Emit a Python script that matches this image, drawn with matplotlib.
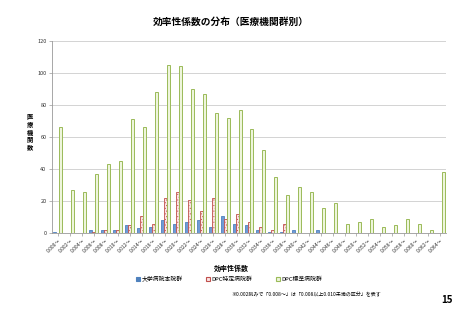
import matplotlib
matplotlib.use("Agg")
import matplotlib.pyplot as plt
import numpy as np

plt.rcParams['font.family'] = ['Noto Sans CJK JP', 'DejaVu Sans']

categories = ["0.000～", "0.002～", "0.004～", "0.006～", "0.008～", "0.010～", "0.012～",
              "0.014～", "0.016～", "0.018～", "0.020～", "0.022～", "0.024～", "0.026～",
              "0.028～", "0.030～", "0.032～", "0.034～", "0.036～", "0.038～", "0.040～",
              "0.042～", "0.044～", "0.046～", "0.048～", "0.050～", "0.052～", "0.054～",
              "0.056～", "0.058～", "0.060～", "0.062～", "0.064～"]
univ = [1, 0, 0, 2, 2, 2, 5, 3, 4, 8, 6, 7, 8, 4, 11, 6, 5, 2, 1, 1, 2,
        0, 2, 0, 0, 0, 0, 0, 0, 0, 0, 0, 0]
special = [0, 0, 0, 1, 2, 2, 5, 11, 6, 22, 26, 21, 14, 22, 9, 12, 7, 4, 2, 6, 0,
           0, 0, 0, 0, 0, 0, 0, 0, 0, 0, 0, 0]
standard = [66, 27, 26, 37, 43, 45, 71, 66, 88, 105, 104, 90, 87, 75, 72, 77, 65, 52, 35, 24, 29,
            26, 16, 19, 6, 7, 9, 4, 5, 9, 6, 2, 38]
series_names = ["大学病院本院群", "DPC特定病院群", "DPC標準病院群"]
yticks = [0, 20, 40, 60, 80, 100, 120]

fig = plt.figure(figsize=(4.62, 3.2), dpi=100)
ax = fig.add_axes([52/462, 1-233.3/320, (446-52)/462, (233.3-40.7)/320])

x = np.arange(len(categories))
w = 0.25
plt.rcParams['hatch.linewidth'] = 0.4
b1 = ax.bar(x - w, univ, w, facecolor='#6f9bd6', edgecolor='#4f81bd', linewidth=0.6, zorder=3)
plt.rcParams['hatch.color'] = '#e6a0a0'
b2 = ax.bar(x, special, w, facecolor='#fbe4e4', edgecolor='#c0504d', linewidth=0.6,
            hatch='......', zorder=3)
b3 = ax.bar(x + w, standard, w, facecolor='#eef5dc', edgecolor='#9bbb59', linewidth=0.7, zorder=3)

ax.set_xlim(-0.5, len(categories) - 0.5)
ax.set_ylim(0, 120)
ax.set_yticks(yticks)
ax.set_yticklabels([str(t) for t in yticks], fontsize=4, color='#333333')
ax.set_xticks(x)
ax.set_xticklabels(categories, rotation=45, ha='right', rotation_mode='anchor', fontsize=3.6,
                   color='#333333')
ax.tick_params(axis='y', length=2, width=0.5, color='#999999', pad=2)
ax.tick_params(axis='x', length=2, width=0.5, color='#999999', pad=1)
ax.grid(axis='y', color='#cccccc', linewidth=0.6, zorder=0)
for s in ['top', 'right']:
    ax.spines[s].set_visible(False)
ax.spines['left'].set_color('#999999')
ax.spines['left'].set_linewidth(0.6)
ax.spines['bottom'].set_color('#999999')
ax.spines['bottom'].set_linewidth(0.6)

fig.text(0.5, 1 - 22/320, "効率性係数の分布（医療機関群別）", ha='center', va='center',
         fontsize=7, fontweight='bold')
fig.text(30/462, 1 - 132/320, "医\n療\n機\n関\n数", ha='center', va='center',
         fontsize=4.5, fontweight='bold', linespacing=1.1)
fig.text(0.5, 1 - 268/320, "効率性係数", ha='center', va='center', fontsize=5, fontweight='bold')

leg_x = [140, 210, 280]
for hx, name, fc, ec in zip(leg_x, series_names, ['#4f81bd', '#fbe4e4', '#eef5dc'],
                            ['#4f81bd', '#c0504d', '#9bbb59']):
    fig.patches.append(plt.Rectangle((hx/462 - 0.008, 1 - 281/320), 0.008, 0.011,
                                     transform=fig.transFigure, facecolor=fc, edgecolor=ec,
                                     linewidth=0.8))
    fig.text(hx/462 + 0.003, 1 - 279/320, name, ha='left', va='center', fontsize=4.2)

fig.text(381/462, 1 - 294/320, "※0.002刻みで「0.008～」は「0.008以上0.010未満の区分」を表す",
         ha='right', va='center', fontsize=3.6)
fig.text(447/462, 1 - 300/320, "15", ha='center', va='center', fontsize=7, fontweight='bold')

fig.savefig("out.png", dpi=100)
